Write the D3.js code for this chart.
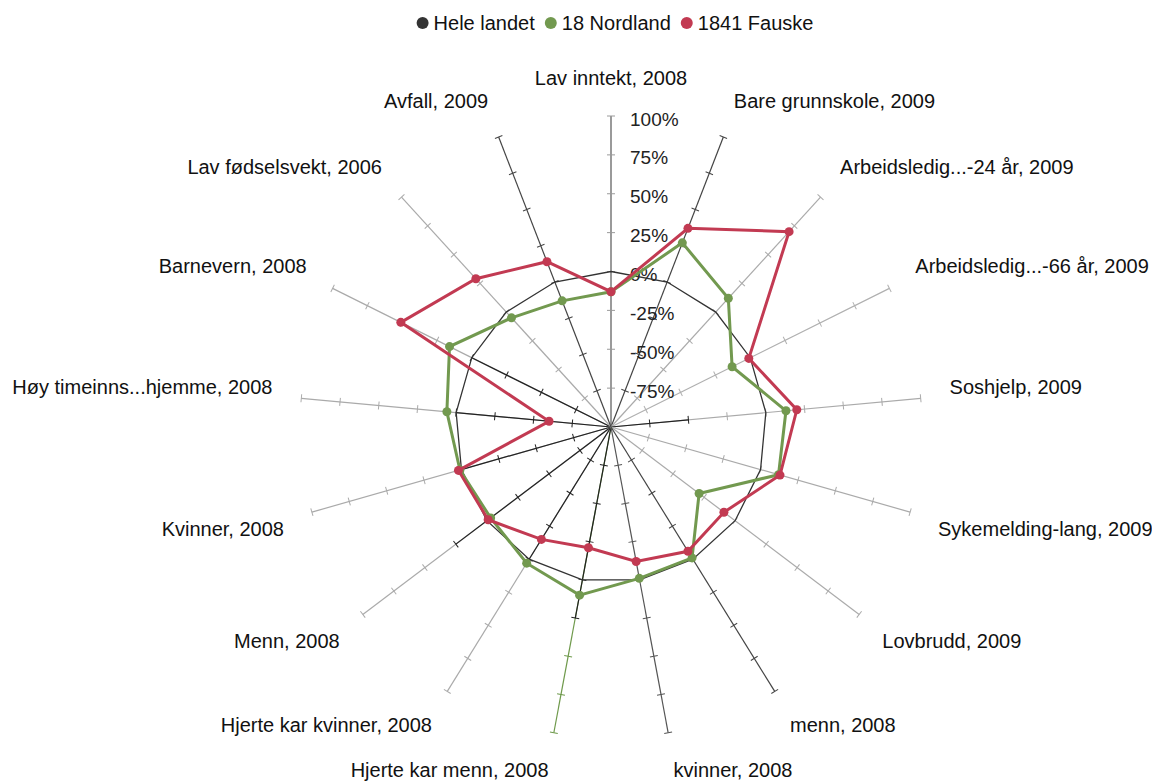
<!DOCTYPE html>
<html lang="no">

<head>
  <meta charset="UTF-8">
  <title>Folkehelseprofil radar</title>
  <style>
    body { margin: 0; background: #fff; }
    text { font-family: "Liberation Sans", Arial, sans-serif; }
  </style>
</head>

<body>
  <svg width="1152" height="782" class="svgs"></svg>
  <script src="https://cdn.jsdelivr.net/npm/d3@7/dist/d3.min.js"></script>
  <script>
    // categories, clockwise from the top
    const categories = [
      'Lav inntekt, 2008', 'Bare grunnskole, 2009', 'Arbeidsledig...-24 år, 2009',
      'Arbeidsledig...-66 år, 2009', 'Soshjelp, 2009', 'Sykemelding-lang, 2009',
      'Lovbrudd, 2009', 'menn, 2008', 'kvinner, 2008', 'Hjerte kar menn, 2008',
      'Hjerte kar kvinner, 2008', 'Menn, 2008', 'Kvinner, 2008',
      'Høy timeinns...hjemme, 2008', 'Barnevern, 2008', 'Lav fødselsvekt, 2006', 'Avfall, 2009'
    ]
    const heleLandet = [0, 0, 0, 0, 0, 0, 0, 0, 0, 0, 0, 0, 0, 0, 0, 0, 0]
    const nordland = [-13, 27, 12, -13, 13, 12, -29, -1, -1, 10, 3, -3, 1, 6, 16, -5, -13]
    const fauske = [-13, 37, 70, -1, 20, 13, -9, -6, -12, -21, -15, -1, 2, -60, 51, 29, 14]
    const valueTicks = [-75, -50, -25, 0, 25, 50, 75, 100]

    const seriesNames = ['Hele landet', '18 Nordland', '1841 Fauske']

    // styles
    const colors = ['#333333', '#72994f', '#c23a52']
    const spokeColor = ['#9a9a9a', '#444', '#aaa', '#b0b0b0', '#aaa', '#aaa', '#aaa', '#444', '#555',
      '#6f9a4c', '#aaa', '#aaa', '#aaa', '#aaa', '#aaa', '#aaa', '#444']
    const spokeDarkTo = [null, null, null, null, -50, null, null, null, null,
      25, 0, 25, 0, 0, 0, null, null]

    const mainsvg = d3.select('.svgs')
    const cx = 611, cy = 427, R = 311

    const rScale = d3.scaleLinear().domain([-100, 100]).range([0, R])
    const aScale = d3.scaleLinear().domain([0, categories.length]).range([0, 2 * Math.PI])

    const px = (i, v) => cx + rScale(v) * Math.sin(aScale(i))
    const py = (i, v) => cy - rScale(v) * Math.cos(aScale(i))

    const g = mainsvg.append('g').attr('transform', `translate(${cx}, ${cy})`)

    // spokes with ticks
    categories.forEach((c, i) => {
      const a = aScale(i)
      const sg = g.append('g').attr('transform', `rotate(${a * 180 / Math.PI})`)
      sg.append('line')
        .attr('x1', 0).attr('y1', 0)
        .attr('x2', 0).attr('y2', -rScale(100))
        .attr('stroke', spokeColor[i])
        .attr('stroke-width', i === 0 ? 2 : 1.2)
      if (spokeDarkTo[i] !== null) {
        sg.append('line')
          .attr('x1', 0).attr('y1', 0)
          .attr('x2', 0).attr('y2', -rScale(spokeDarkTo[i]))
          .attr('stroke', '#222')
          .attr('stroke-width', 1.2)
      }
      valueTicks.forEach(v => {
        const dark = spokeDarkTo[i] !== null && v <= spokeDarkTo[i]
        sg.append('line')
          .attr('x1', -4).attr('x2', 4)
          .attr('y1', -rScale(v)).attr('y2', -rScale(v))
          .attr('stroke', dark ? '#222' : spokeColor[i])
          .attr('stroke-width', 1)
      })
    })

    // value axis labels
    g.selectAll('.vlabel')
      .data(valueTicks)
      .join('text')
      .attr('class', 'vlabel')
      .attr('x', 19)
      .attr('y', d => -rScale(d) + 3)
      .attr('dominant-baseline', 'central')
      .attr('font-size', '19px')
      .attr('fill', '#222')
      .text(d => d + '%')

    // series
    const radial = d3.lineRadial()
      .angle((d, i) => aScale(i))
      .radius(d => rScale(d))
      .curve(d3.curveLinearClosed)

    const allSeries = [heleLandet, nordland, fauske]
    allSeries.forEach((s, k) => {
      g.append('path')
        .attr('d', radial(s))
        .attr('fill', 'none')
        .attr('stroke', colors[k])
        .attr('stroke-width', k === 0 ? 1.3 : 3)
      if (k > 0) {
        g.selectAll('.dot' + k)
          .data(s)
          .join('circle')
          .attr('cx', (d, i) => px(i, d) - cx)
          .attr('cy', (d, i) => py(i, d) - cy)
          .attr('r', 4.5)
          .attr('fill', colors[k])
      }
    })

    // category labels
    const L = 340
    categories.forEach((c, i) => {
      const a = aScale(i)
      const s = Math.sin(a), co = Math.cos(a)
      mainsvg.append('text')
        .attr('x', cx + L * s)
        .attr('y', cy - L * co + (co > 0 ? -9 : 9))
        .attr('text-anchor', Math.abs(s) < 0.05 ? 'middle' : (s > 0 ? 'start' : 'end'))
        .attr('dominant-baseline', 'central')
        .attr('font-size', '20px')
        .attr('fill', '#111')
        .text(c)
    })

    // legend
    const lg = mainsvg.append('g')
    let x = 0
    seriesNames.forEach((n, k) => {
      lg.append('circle').attr('cx', x + 6).attr('cy', 23).attr('r', 6).attr('fill', colors[k])
      const t = lg.append('text')
        .attr('x', x + 17).attr('y', 23)
        .attr('dominant-baseline', 'central')
        .attr('font-size', '20px')
        .attr('fill', '#111')
        .text(n)
      x += 17 + t.node().getComputedTextLength() + 10
    })
    lg.attr('transform', `translate(${615 - (x - 10) / 2}, 0)`)
  </script>
</body>

</html>
